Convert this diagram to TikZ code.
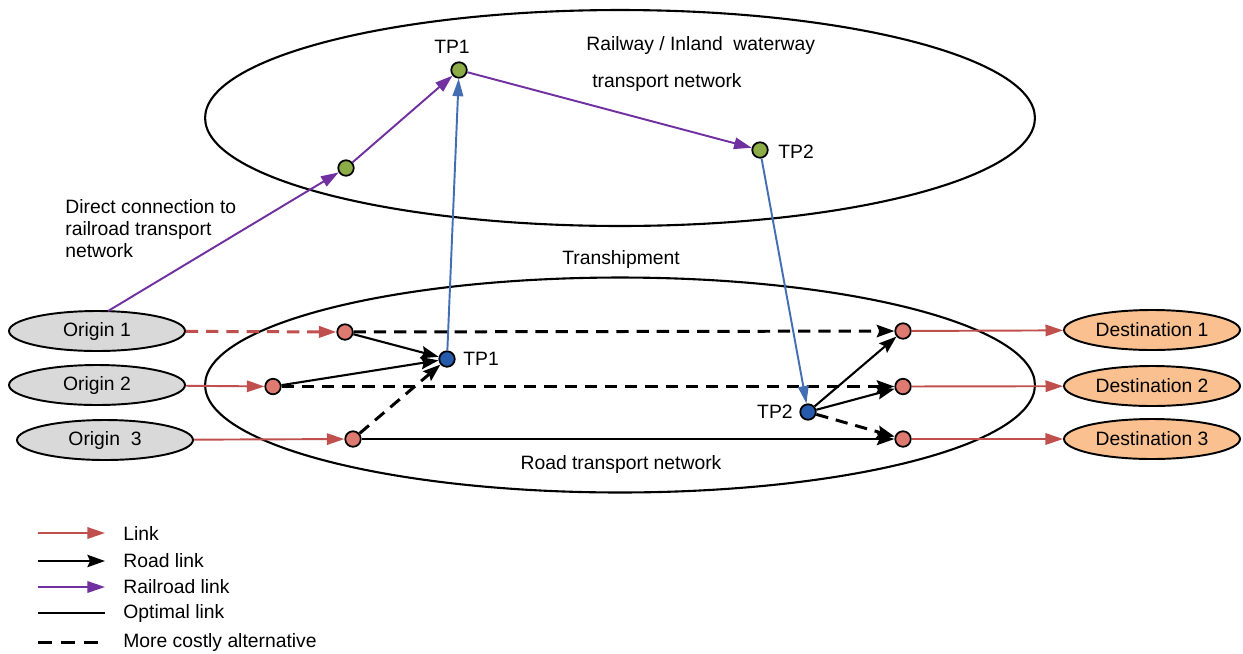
\documentclass[tikz,border=0pt]{standalone}
\usepackage{fontspec}
\setmainfont{Liberation Sans}
\usetikzlibrary{arrows.meta,calc,shapes.geometric}
\definecolor{linkred}{RGB}{192,80,77}
\definecolor{dotred}{RGB}{222,122,112}
\definecolor{railc}{RGB}{112,48,160}
\definecolor{blueline}{RGB}{68,110,180}
\definecolor{bluefill}{RGB}{38,90,170}
\definecolor{greenfill}{RGB}{140,172,70}
\definecolor{origfill}{RGB}{217,217,217}
\definecolor{destfill}{RGB}{250,192,143}
\begin{document}
\begin{tikzpicture}[x=0.02cm,y=-0.02cm,
  font=\fontsize{11pt}{12.5pt}\selectfont,
  dot/.style={circle, draw=black, line width=1pt, minimum size=0.31cm, inner sep=0pt},
  rdot/.style={dot, fill=dotred},
  bdot/.style={dot, fill=bluefill},
  gdot/.style={dot, fill=greenfill},
  endpt/.style={ellipse, draw=black, line width=1.1pt, minimum width=3.52cm, minimum height=0.8cm, inner sep=0pt},
  orig/.style={endpt, fill=origfill},
  dest/.style={endpt, fill=destfill},
  net/.style={draw=black, line width=1.2pt},
  link/.style={draw=linkred, line width=1.1pt, -{Triangle[length=10pt,width=6.5pt]}},
  road/.style={draw=black, line width=1.2pt, -{Stealth[length=10pt,width=7pt,inset=1.5pt]}},
  rail/.style={draw=railc, line width=1.1pt, -{Triangle[length=10pt,width=6.5pt]}},
  trans/.style={draw=blueline, line width=1.1pt, -{Triangle[length=10pt,width=6pt]}},
  alt/.style={line width=1.7pt, dash pattern=on 7pt off 4.5pt},
  altred/.style={line width=1.7pt, dash pattern=on 7pt off 4.5pt},
  lbl/.style={inner sep=0pt}
]
\useasboundingbox (0,0) rectangle (1243,653);

% networks
\draw[net] (620,118) ellipse [x radius=8.3cm, y radius=2.16cm];
\draw[net] (620,385) ellipse [x radius=8.3cm, y radius=2.15cm];

% origin / destination
\node[orig] (O1) at (97,331) {Origin 1};
\node[orig] (O2) at (97,385) {Origin 2};
\node[orig] (O3) at (105,440) {Origin\ \ 3};
\node[dest] (D1) at (1152,330) {Destination 1};
\node[dest] (D2) at (1152,386) {Destination 2};
\node[dest] (D3) at (1152,439) {Destination 3};

% road dots
\node[rdot] (r1) at (345,332) {};
\node[rdot] (r2) at (273,386.5) {};
\node[rdot] (r3) at (353,439) {};
\node[rdot] (d1) at (903,331) {};
\node[rdot] (d2) at (903,386.5) {};
\node[rdot] (d3) at (903,439) {};
\node[bdot] (tp1b) at (447,359) {};
\node[bdot] (tp2b) at (808,412) {};

% rail dots
\node[gdot] (g1) at (346,168) {};
\node[gdot] (tp1g) at (459,70) {};
\node[gdot] (tp2g) at (760,150) {};

% labels
\node[lbl] (ltp1g) at (452,47) {TP1};
\node[lbl, anchor=west] (ltp2g) at (778,152) {TP2};
\node[lbl, anchor=west] (ltp1b) at (463,359) {TP1};
\node[lbl, anchor=east] (ltp2b) at (793,412) {TP2};
\node[lbl, anchor=west] (lrail1) at (586,45) {Railway / Inland\ \ waterway};
\node[lbl, anchor=west] (lrail2) at (592,82) {transport network};
\node[lbl, anchor=west, align=left] (ldirect) at (65,229) {Direct connection to\\railroad transport\\network};
\node[lbl] (ltrans) at (621,259) {Transhipment};
\node[lbl] (lroad) at (621,464) {Road transport network};

% links
\draw[link, altred] (O1) -- (r1);
\draw[link] (O2) -- (r2);
\draw[link] (O3) -- (r3);
\draw[link] (d1) -- (D1);
\draw[link] (d2) -- (D2);
\draw[link] (d3) -- (D3);

% road links
\draw[road] (r1) -- (tp1b);
\draw[road] (r2) -- (tp1b);
\draw[road, alt] (r3) -- (tp1b);
\draw[road, alt] (r1) -- (d1);
\draw[road, alt] (r2) -- (d2);
\draw[road] (r3) -- (d3);
\draw[road] (tp2b) -- (d1);
\draw[road] (tp2b) -- (d2);
\draw[road, alt] (tp2b) -- (d3);

% transhipment
\draw[trans] (tp1b) -- (tp1g);
\draw[trans] (tp2g) -- (tp2b);

% railroad links
\coordinate (o1top) at ($(O1.north)+(11,1)$);
\draw[rail] (o1top) -- (g1);
\draw[rail] (g1) -- (tp1g);
\draw[rail] (tp1g) -- (tp2g);

% legend
\coordinate (la1) at (38,533); \coordinate (lb1) at (105,533);
\coordinate (la2) at (38,561); \coordinate (lb2) at (105,561);
\coordinate (la3) at (38,587); \coordinate (lb3) at (105,587);
\coordinate (la4) at (38,613); \coordinate (lb4) at (105,613);
\coordinate (la5) at (38,642); \coordinate (lb5) at (105,642);
\draw[link] (la1) -- (lb1);
\draw[road] (la2) -- (lb2);
\draw[rail] (la3) -- (lb3);
\draw[line width=1.1pt] (la4) -- (lb4);
\draw[alt, dash pattern=on 8pt off 5pt] (la5) -- (lb5);
\node[lbl, anchor=west] (t1) at (123,533) {Link};
\node[lbl, anchor=west] (t2) at (123,561) {Road link};
\node[lbl, anchor=west] (t3) at (123,587) {Railroad link};
\node[lbl, anchor=west] (t4) at (123,613) {Optimal link};
\node[lbl, anchor=west] (t5) at (123,642) {More costly alternative};
\end{tikzpicture}
\end{document}
